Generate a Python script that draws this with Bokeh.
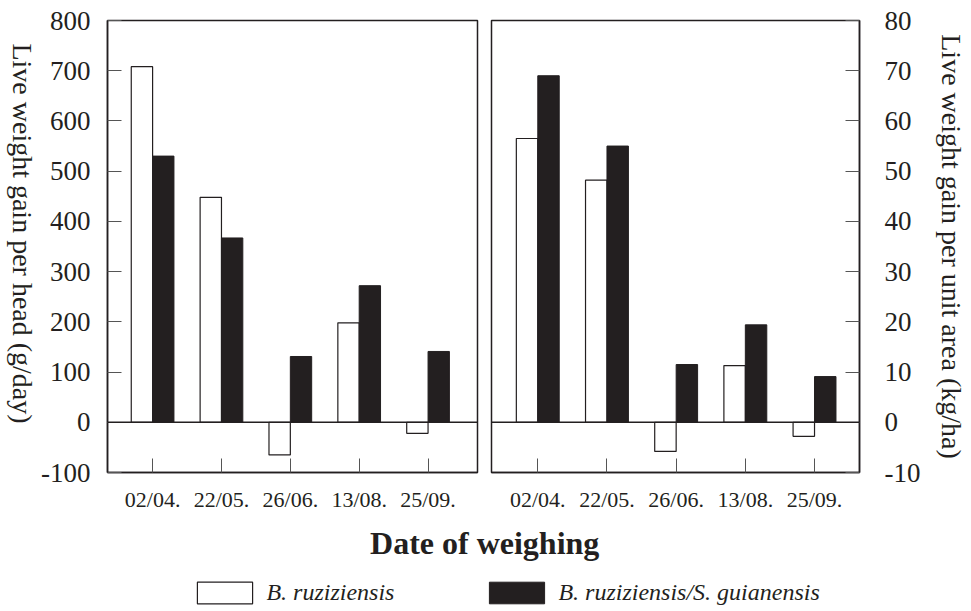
import math
from bokeh.plotting import figure
from bokeh.models import Range1d, FixedTicker, Span, ColumnDataSource, Legend, LegendItem
from bokeh.layouts import row, column
from bokeh.transform import dodge
from bokeh.core.properties import value
from bokeh.embed import file_html
from bokeh.resources import INLINE

# ---------------- data ----------------
dates = ["02/04.", "22/05.", "26/06.", "13/08.", "25/09."]
series_names = ["B. ruziziensis", "B. ruziziensis/S. guianensis"]
# live weight gain per head (g/day)
head_ruz = [708, 448, -65, 198, -22]
head_mix = [530, 367, 131, 272, 141]
# live weight gain per unit area (kg/ha)
area_ruz = [56.5, 48.2, -5.8, 11.3, -2.8]
area_mix = [69.0, 55.0, 11.5, 19.4, 9.1]
head_ticks = [-100, 0, 100, 200, 300, 400, 500, 600, 700, 800]
area_ticks = [-10, 0, 10, 20, 30, 40, 50, 60, 70, 80]
head_label = "Live weight gain per head (g/day)"
area_label = "Live weight gain per unit area (kg/ha)"
x_title = "Date of weighing"

FONT = "Liberation Serif"
INK = "#231f20"
TICK = "#555555"
H = 522  # height of the panel row


def panel(vals_a, vals_b, yticks, xr, width, bl, br, yside):
    src = ColumnDataSource(dict(x=list(range(len(dates))), a=vals_a, b=vals_b))
    p = figure(width=width, height=H,
               x_range=Range1d(*xr), y_range=Range1d(yticks[0], yticks[-1]),
               output_backend="svg", toolbar_location=None, y_axis_location=yside,
               min_border_left=bl, min_border_right=br, min_border_top=20, min_border_bottom=50)
    p.grid.visible = False
    p.outline_line_color = INK
    p.outline_line_width = 1.5
    p.outline_line_alpha = 1.0
    p.vbar(x=dodge("x", -0.155), top="a", bottom=0, width=0.31, source=src,
           fill_color="white", line_color=INK, line_width=1.2)
    p.vbar(x=dodge("x", 0.155), top="b", bottom=0, width=0.31, source=src,
           fill_color=INK, line_color=INK, line_width=1.0)
    p.add_layout(Span(location=0, dimension="width", line_color=INK, line_width=1.5))

    xa = p.xaxis[0]
    xa.ticker = FixedTicker(ticks=list(range(len(dates))))
    xa.major_label_overrides = {i: d for i, d in enumerate(dates)}
    xa.major_label_text_font = FONT
    xa.major_label_text_font_size = "22px"
    xa.major_label_text_color = INK
    xa.major_label_standoff = 14
    for ax in (p.xaxis[0], p.yaxis[0]):
        ax.major_tick_in = 14
        ax.major_tick_out = 0
        ax.minor_tick_in = 0
        ax.minor_tick_out = 0
        ax.major_tick_line_color = TICK
        ax.major_tick_line_width = 1
        ax.axis_line_color = INK
        ax.axis_line_width = 1.5
    ya = p.yaxis[0]
    ya.ticker = FixedTicker(ticks=yticks)
    # plain hyphen for negatives, as printed in the reference
    ya.major_label_overrides = {t: str(t) for t in yticks if t < 0}
    ya.major_label_text_font = FONT
    ya.major_label_text_font_size = "27px"
    ya.major_label_text_color = INK
    ya.axis_label_text_font = FONT
    ya.axis_label_text_font_style = "normal"
    ya.axis_label_text_font_size = "28px"
    ya.axis_label_text_color = INK
    return p


# narrow strip holding the left title, which reads top-to-bottom
title_strip = figure(width=38, height=H, x_range=Range1d(0, 38), y_range=Range1d(0, H),
                     output_backend="svg", toolbar_location=None, min_border=0,
                     x_axis_type=None, y_axis_type=None)
title_strip.grid.visible = False
title_strip.outline_line_color = None
title_strip.text(x=[22], y=[H - 246], text=[head_label], angle=-math.pi / 2,
                 text_align="center", text_baseline="middle", text_font=value(FONT),
                 text_font_size="28px", text_color=INK)

left = panel(head_ruz, head_mix, head_ticks, (-0.655, 4.718), 446, 67, 7, "left")
left.yaxis[0].major_label_standoff = 17

right = panel(area_ruz, area_mix, area_ticks, (-0.669, 4.65), 487, 7, 112, "right")
right.yaxis[0].major_label_standoff = 25
right.yaxis[0].axis_label = area_label
right.yaxis[0].axis_label_standoff = 13

# bottom strip: common x-axis title and legend
bottom = figure(width=971, height=89, x_range=Range1d(0, 971), y_range=Range1d(0, 89),
                output_backend="svg", toolbar_location=None, min_border=0,
                x_axis_type=None, y_axis_type=None)
bottom.grid.visible = False
bottom.outline_line_color = None
bottom.text(x=[484.2], y=[68.7], text=[x_title], text_font=value(FONT),
            text_font_style="bold", text_font_size="32px", text_align="center",
            text_baseline="alphabetic", text_color=INK)
# legend proxies (placed outside the visible range)
r1 = bottom.vbar(x=[-500], top=[-500], bottom=[-501], width=1, fill_color="white",
                 line_color=INK, line_width=1.2)
r2 = bottom.vbar(x=[-500], top=[-500], bottom=[-501], width=1, fill_color=INK,
                 line_color=INK, line_width=1.0)
legend = Legend(items=[LegendItem(label=series_names[0], renderers=[r1]),
                       LegendItem(label=series_names[1], renderers=[r2])],
                location=(190.4, 4.7), orientation="horizontal",
                glyph_width=69, glyph_height=27, label_standoff=7, spacing=88,
                padding=0, margin=0, border_line_color=None, background_fill_alpha=0,
                label_text_font=FONT, label_text_font_style="italic",
                label_text_font_size="24px", label_text_color=INK)
bottom.add_layout(legend)

page = column(row(title_strip, left, right), bottom)
open("out.html", "w").write(file_html(page, INLINE))
